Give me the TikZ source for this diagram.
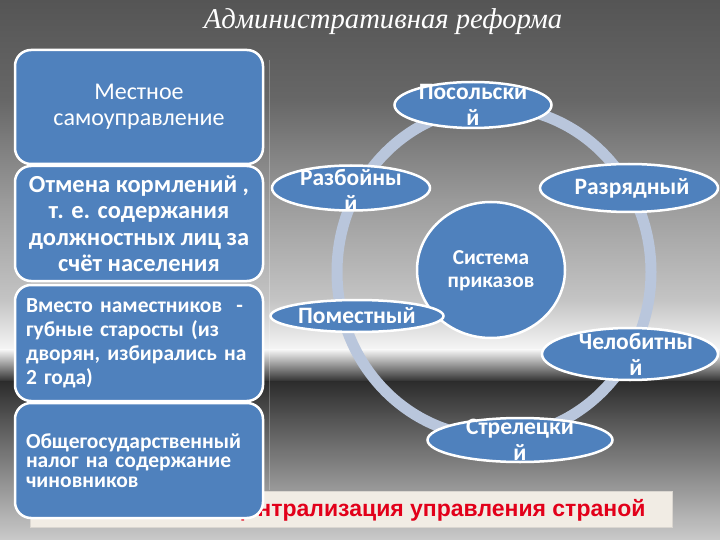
\documentclass[tikz,border=0pt]{standalone}
\usepackage{fontspec}
\setmainfont{Carlito}
\newfontfamily\titlefont{Liberation Serif}
\newfontfamily\barfont{Liberation Sans}
\usetikzlibrary{shapes.geometric}
\definecolor{boxblue}{HTML}{4F81BD}
\definecolor{ringc}{HTML}{B9C6DC}
\definecolor{barbg}{HTML}{F1ECE4}
\definecolor{barred}{HTML}{E2001A}
\definecolor{bgA}{HTML}{555555}
\definecolor{bgB}{HTML}{676767}
\definecolor{bgC}{HTML}{9A9A9A}
\definecolor{bgD}{HTML}{C4C4C4}
\definecolor{bgE}{HTML}{F6F6F6}
\definecolor{bgF}{HTML}{2C2C2C}
\definecolor{bgG}{HTML}{555555}
\definecolor{bgH}{HTML}{CACACA}
\begin{document}
\begin{tikzpicture}[x=1pt,y=-1pt,
  leftbox/.style={draw=white, line width=2.5pt, fill=boxblue, rounded corners=16pt,
    minimum width=248pt, text=white, inner xsep=11pt},
  oval/.style={ellipse, draw=white, line width=2.5pt, fill=boxblue, inner sep=0pt},
  ovaltext/.style={text=white, align=center, font=\bfseries\fontsize{23.5}{26}\selectfont, inner sep=0pt}
]
\useasboundingbox (0,0) rectangle (720,540);
% background
\shade[top color=bgA, bottom color=bgB] (0,0) rectangle (720,100);
\shade[top color=bgB, bottom color=bgC] (0,99.5) rectangle (720,200);
\shade[top color=bgC, bottom color=bgD] (0,199.5) rectangle (720,300);
\shade[top color=bgD, bottom color=bgE] (0,299.5) rectangle (720,350);
\shade[top color=bgE, bottom color=bgF] (0,349.5) rectangle (720,382);
\shade[top color=bgF, bottom color=bgG] (0,381.5) rectangle (720,420);
\shade[top color=bgG, bottom color=bgH] (0,419.5) rectangle (720,540);
\draw[white, opacity=0.25, line width=1pt] (269,60) -- (269,490);
% title
\node[text=white, font=\titlefont\itshape\fontsize{28.7}{32}\selectfont] (title) at (383,22) {Административная реформа};
% bottom bar
\node[draw=barbg!80!gray, line width=0.6pt, fill=barbg, minimum width=642pt, minimum height=36pt, inner sep=0pt] (bar) at (351,509) {};
\node[anchor=east, text=barred, font=\barfont\bfseries\fontsize{23}{26}\selectfont] (bartext) at (649,510) {Централизация управления страной};
% left boxes
\node[leftbox, minimum height=114pt, align=center, font=\fontsize{24}{26}\selectfont] (b1) at (139,107) {Местное\\самоуправление};
\node[leftbox, minimum height=115pt, align=center, font=\bfseries\fontsize{24.5}{26.5}\selectfont] (b2) at (139,223.5) {Отмена кормлений ,\\т. е. содержания\\должностных лиц за\\счёт населения};
\node[leftbox, minimum height=116pt, text width=226pt, align=left, font=\bfseries\fontsize{21.5}{24}\selectfont] (b3) at (139,343) {Вместо наместников \ -\\губные старосты (из\\дворян, избирались на\\2 года)};
\node[leftbox, minimum height=115pt, text width=226pt, align=left, font=\bfseries\fontsize{21.5}{19.5}\selectfont] (b4) at (139,460.5) {Общегосударственный\\налог на содержание\\чиновников};
% ring
\node[ellipse, draw=ringc, line width=11pt, minimum width=314pt, minimum height=330pt, inner sep=0pt] (ring) at (494,272) {};
% central circle
\node[oval, minimum width=148pt, minimum height=136pt] (core) at (491,270) {};
\node[ovaltext, font=\bfseries\fontsize{21.3}{23}\selectfont] (coret) at (491,271) {Система\\приказов};
% ovals
\node[oval, minimum width=157pt, minimum height=46pt] (o1) at (473,105) {};
\node[ovaltext] (t1) at (473,105) {Посольски\\й};
\node[oval, minimum width=158pt, minimum height=45pt] (o2) at (351,188) {};
\node[ovaltext] (t2) at (351,190) {Разбойны\\й};
\node[oval, minimum width=178pt, minimum height=48pt] (o3) at (629,188) {};
\node[ovaltext] (t3) at (632,188) {Разрядный};
\node[oval, minimum width=173pt, minimum height=32pt] (o4) at (357,316) {};
\node[ovaltext] (t4) at (357,316) {Поместный};
\node[oval, minimum width=176pt, minimum height=52pt] (o5) at (630,354) {};
\node[ovaltext] (t5) at (636,354) {Челобитны\\й};
\node[oval, minimum width=185pt, minimum height=44pt] (o6) at (520,440) {};
\node[ovaltext] (t6) at (520,440) {Стрелецки\\й};
\end{tikzpicture}
\end{document}
